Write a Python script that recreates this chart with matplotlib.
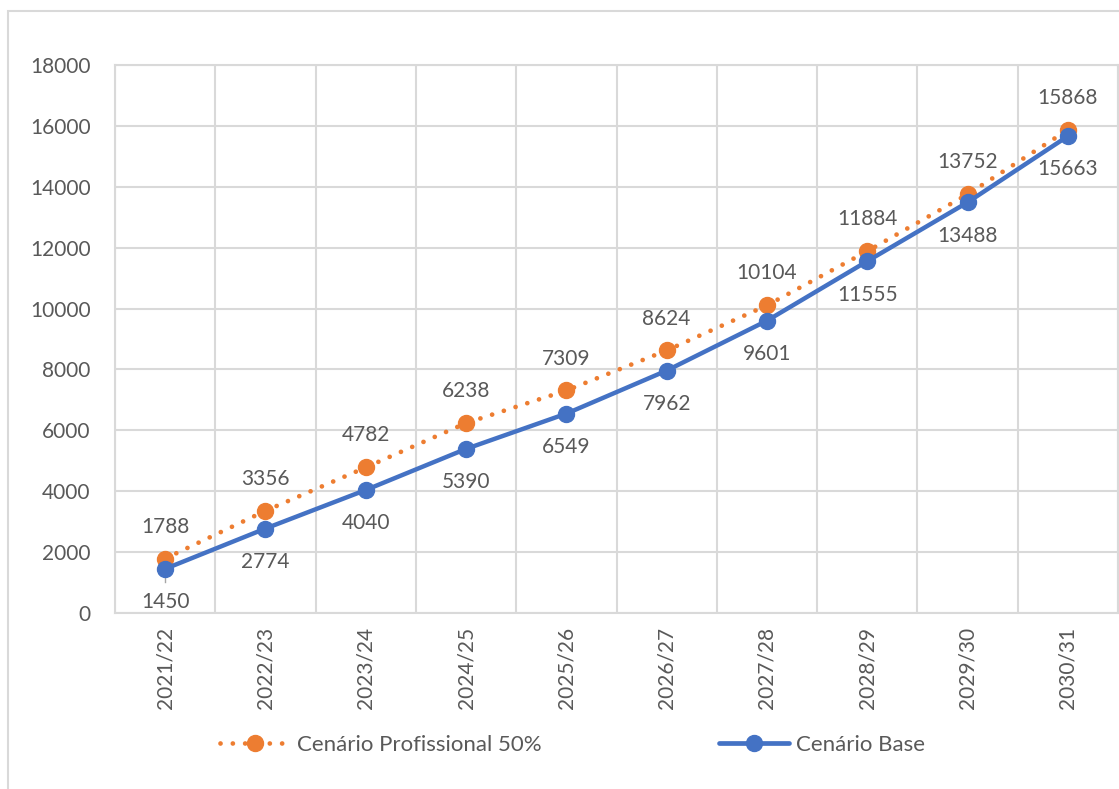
import matplotlib
matplotlib.use("Agg")
import matplotlib.pyplot as plt
from matplotlib.lines import Line2D
from matplotlib.patches import Rectangle
from matplotlib.ticker import MultipleLocator, FixedLocator

plt.rcParams['font.family'] = ['Lato', 'DejaVu Sans']

seasons = ["2021/22", "2022/23", "2023/24", "2024/25", "2025/26",
           "2026/27", "2027/28", "2028/29", "2029/30", "2030/31"]
profissional_50 = [1788, 3356, 4782, 6238, 7309, 8624, 10104, 11884, 13752, 15868]
base = [1450, 2774, 4040, 5390, 6549, 7962, 9601, 11555, 13488, 15663]

ORANGE = "#ED7D31"
BLUE = "#4472C4"
GRID = "#D9D9D9"
TEXT = "#595959"
FS = 15

W, H = 1119, 789
fig = plt.figure(figsize=(W / 100, H / 100), dpi=100)
fig.patch.set_facecolor("white")

# chart border (extends past the right and bottom edges)
fig.patches.append(Rectangle((8 / W, -0.1), 1.2, (H - 11) / H + 0.1,
                             transform=fig.transFigure, fill=False,
                             edgecolor=GRID, linewidth=1.5))

ax = fig.add_axes([115 / W, (H - 613) / H, (1118 - 115) / W, (613 - 65) / H])
x = list(range(len(seasons)))

ax.plot(x, profissional_50, color=ORANGE, linestyle=(0, (0.01, 2.6)),
        dash_capstyle="round", linewidth=3.4, marker="o", markersize=11.5,
        zorder=3)
ax.plot(x, base, color=BLUE, linewidth=3.2, marker="o", markersize=11.5,
        solid_capstyle="round", zorder=4)

# leader line under the first base label
ax.plot([0, 0], [base[0], base[0] - 420], color="#A6A6A6", linewidth=1, zorder=2)

for xi, v in zip(x, profissional_50):
    ax.annotate(str(v), (xi, v), xytext=(0, 23), textcoords="offset points",
                ha="center", va="center", fontsize=FS, color=TEXT)
for xi, v in zip(x, base):
    ax.annotate(str(v), (xi, v), xytext=(0, -24), textcoords="offset points",
                ha="center", va="center", fontsize=FS, color=TEXT)

ax.set_xlim(-0.5, len(seasons) - 0.5)
ax.set_ylim(0, 18000)
ax.yaxis.set_major_locator(MultipleLocator(2000))
ax.set_xticks(x)
ax.set_xticklabels(seasons, rotation=90, fontsize=FS, color=TEXT)
ax.xaxis.set_minor_locator(FixedLocator([i - 0.5 for i in range(len(seasons) + 1)]))
ax.tick_params(axis="x", which="both", length=0, pad=10)
ax.tick_params(axis="y", length=0, pad=17.5, labelsize=FS, labelcolor=TEXT)
ax.grid(True, which="major", axis="y", color=GRID, linewidth=1.5)
ax.grid(True, which="minor", axis="x", color=GRID, linewidth=1.5)
ax.set_axisbelow(True)
for s in ax.spines.values():
    s.set_color(GRID)
    s.set_linewidth(1.5)

handles = [
    Line2D([], [], color=ORANGE, linestyle=(0, (0.01, 2.6)), dash_capstyle="round",
           linewidth=3.4, marker="o", markersize=11.5),
    Line2D([], [], color=BLUE, linewidth=3.4, marker="o", markersize=11.5,
           solid_capstyle="round"),
]
leg = fig.legend(handles, ["Cenário Profissional 50%", "Cenário Base"],
                 loc="center left", bbox_to_anchor=(220 / W, (H - 745) / H),
                 ncol=2, frameon=False, fontsize=16, labelcolor=TEXT,
                 handlelength=3.15, handletextpad=0.3, columnspacing=8.0,
                 borderpad=0, borderaxespad=0)

fig.savefig("out.png", dpi=100, facecolor="white")
